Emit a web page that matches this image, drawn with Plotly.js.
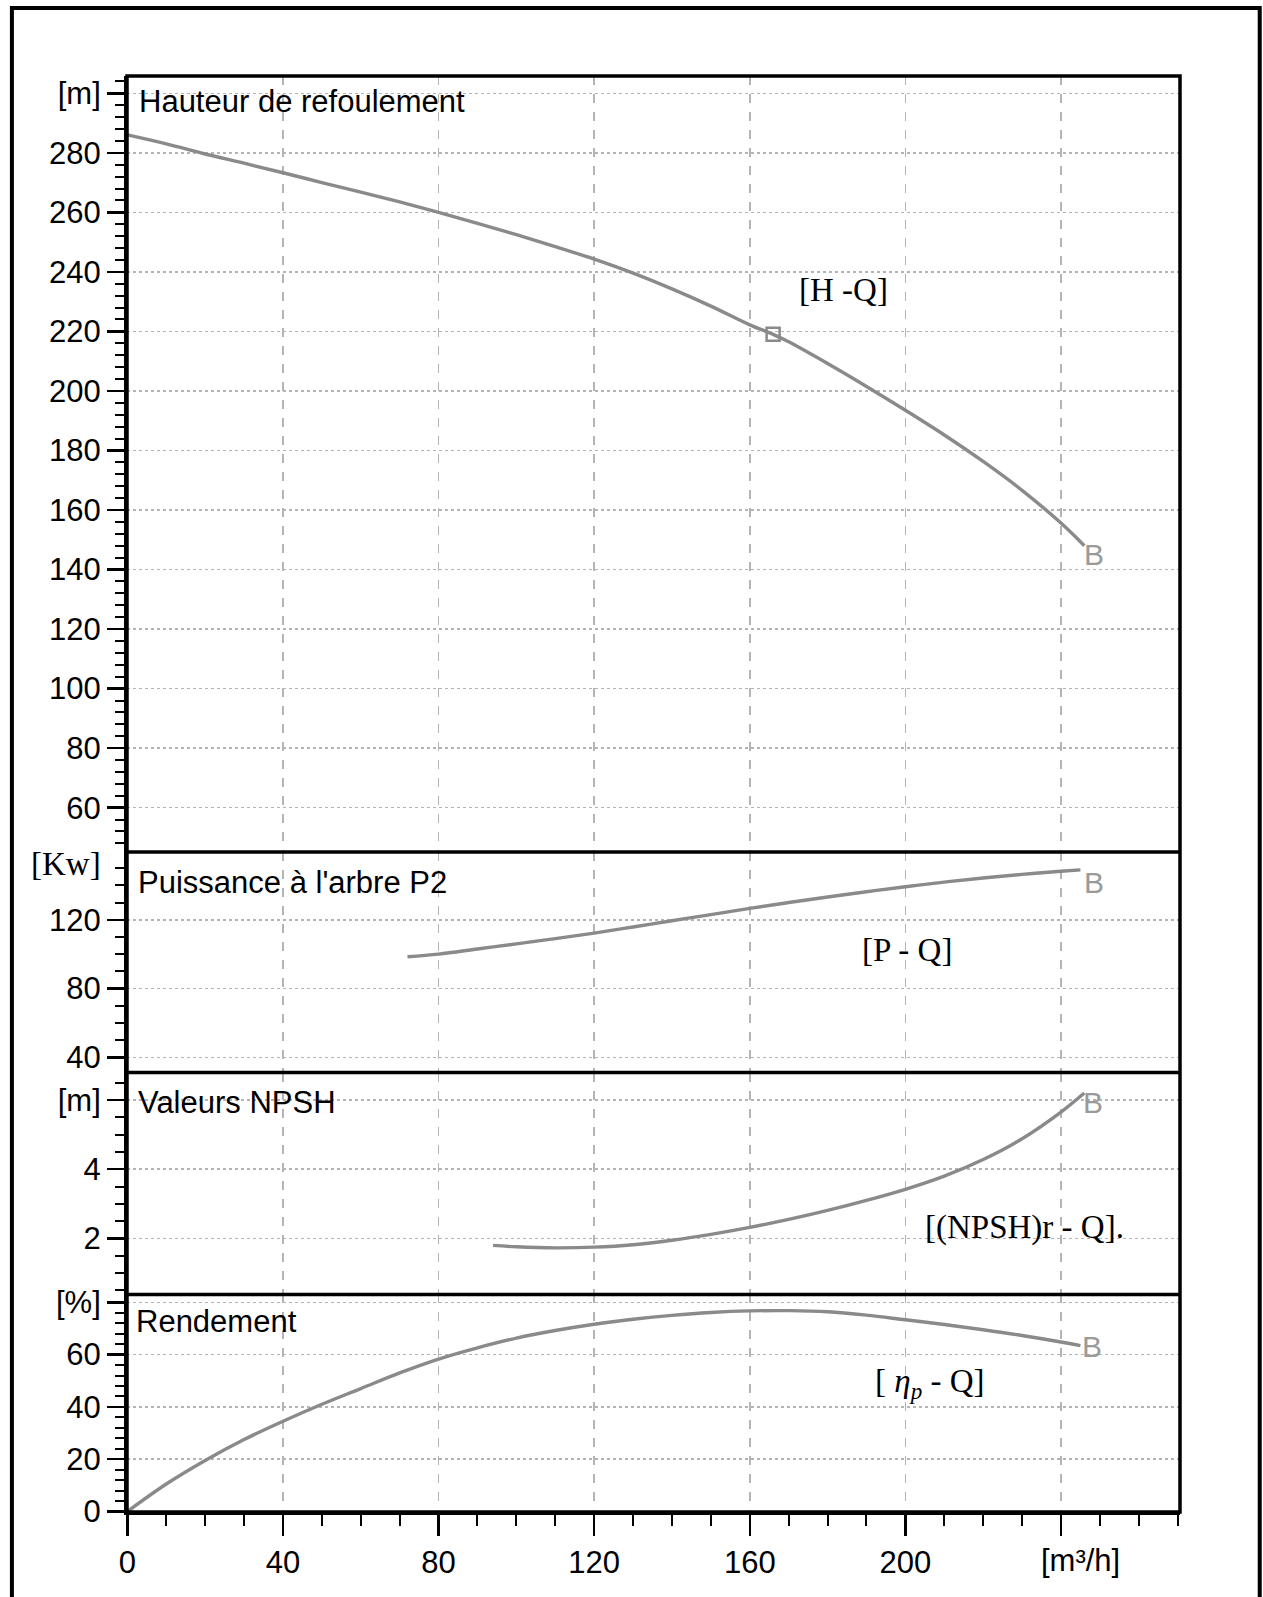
<!DOCTYPE html>
<html>
<head>
<meta charset="utf-8">
<script src="https://cdn.plot.ly/plotly-3.0.1.min.js"></script>
<style>
  html, body { margin: 0; padding: 0; background: #fff; }
  #chart { width: 1263px; height: 1597px; }
</style>
</head>
<body>
<div id="chart"></div>
<script>
// ---- Data ----
const qH = [0, 10, 20, 30, 40, 50, 60, 70, 80, 90, 100, 110, 120, 130, 140, 150, 160, 166, 170, 180, 190, 200, 210, 220, 230, 240, 246];
const headH = [286, 283, 279.6, 276.5, 273.3, 270, 266.8, 263.5, 260, 256.3, 252.5, 248.5, 244.3, 239.6, 234.3, 228.5, 222.2, 219, 216.5, 209.2, 201.5, 193.5, 185.2, 176.3, 166.6, 155.6, 148];

const opQ = [166];
const opH = [219];

const qP = [72, 80, 90, 100, 110, 120, 130, 140, 150, 160, 170, 180, 190, 200, 210, 220, 230, 240, 245];
const powerP = [98.5, 100, 103, 106, 109, 112.2, 115.8, 119.4, 123, 126.6, 130, 133.2, 136.3, 139.2, 141.9, 144.3, 146.4, 148.2, 149];

const qN = [94, 100, 110, 120, 130, 140, 150, 160, 170, 180, 190, 200, 210, 220, 230, 240, 246];
const npshR = [1.8, 1.76, 1.73, 1.75, 1.82, 1.95, 2.12, 2.32, 2.55, 2.81, 3.1, 3.42, 3.8, 4.28, 4.88, 5.65, 6.2];

const qE = [0, 10, 20, 30, 40, 50, 60, 70, 80, 90, 100, 110, 120, 130, 140, 150, 160, 170, 180, 190, 200, 210, 220, 230, 240, 245];
const effE = [0, 10.5, 19.5, 27.5, 34.5, 41, 47, 53, 58.3, 62.6, 66.3, 69.2, 71.6, 73.5, 75, 76.1, 76.7, 76.8, 76.4, 75.1, 73.3, 71.5, 69.5, 67.3, 64.8, 63.4];

// tick labels
const xTickVals = [0, 40, 80, 120, 160, 200, 240];
const xTickText = ['0', '40', '80', '120', '160', '200', ' '];
const hTickVals = [60, 80, 100, 120, 140, 160, 180, 200, 220, 240, 260, 280, 300];
const hTickText = ['60', '80', '100', '120', '140', '160', '180', '200', '220', '240', '260', '280', '[m]'];
const pTickVals = [40, 80, 120];
const pTickText = ['40', '80', '120'];
const nTickVals = [2, 4, 6];
const nTickText = ['2', '4', '[m]'];
const eTickVals = [0, 20, 40, 60, 80];
const eTickText = ['0', '20', '40', '60', '[%]'];

// ---- Styles ----
const SANS = 'Liberation Sans, Arial, Helvetica, sans-serif';
const SERIF = 'Liberation Serif, Times New Roman, serif';
const curveColor = '#8a8a8a';
const gridColor = '#b4b4b4';

function yax(domain, range, vals, text, minorD) {
  return {
    domain: domain, range: range,
    tickmode: 'array', tickvals: vals, ticktext: text,
    ticks: 'outside', ticklen: 17, tickwidth: 2.5, tickcolor: '#000',
    tickfont: { family: SANS, size: 31, color: '#000' },
    showline: true, linecolor: '#000', linewidth: 3,
    showgrid: true, gridcolor: gridColor, gridwidth: 1.5, griddash: 'dot',
    zeroline: false, anchor: 'x', fixedrange: true,
    minor: { tickmode: 'linear', tick0: 0, dtick: minorD, ticks: 'outside', ticklen: 9, tickwidth: 2, tickcolor: '#000', showgrid: false }
  };
}

const line = { color: curveColor, width: 3.4, shape: 'spline', smoothing: 1 };

const traces = [
  { x: qH, y: headH, xaxis: 'x', yaxis: 'y', mode: 'lines', line: line, hoverinfo: 'skip' },
  { x: opQ, y: opH, xaxis: 'x', yaxis: 'y', mode: 'markers',
    marker: { symbol: 'square-open', size: 13, color: curveColor, line: { width: 2.5, color: curveColor } }, hoverinfo: 'skip' },
  { x: qP, y: powerP, xaxis: 'x', yaxis: 'y2', mode: 'lines', line: line, hoverinfo: 'skip' },
  { x: qN, y: npshR, xaxis: 'x', yaxis: 'y3', mode: 'lines', line: line, hoverinfo: 'skip' },
  { x: qE, y: effE, xaxis: 'x', yaxis: 'y4', mode: 'lines', line: line, hoverinfo: 'skip' }
];

const bH = 0.4596, bP = 0.3060, bN = 0.1515;

function ann(text, x, y, yref, opts) {
  return Object.assign({ text: text, x: x, y: y, xref: 'x', yref: yref, showarrow: false,
    xanchor: 'center', yanchor: 'middle' }, opts || {});
}
const titleFont = { family: SANS, size: 31, color: '#000' };
const labelFont = { family: SERIF, size: 33, color: '#000' };
const bFont = { family: SANS, size: 30, color: '#9a9a9a' };

const layout = {
  width: 1263, height: 1597,
  margin: { l: 127, r: 83, t: 76, b: 85, pad: 0 },
  paper_bgcolor: '#fff', plot_bgcolor: '#fff',
  showlegend: false,
  xaxis: {
    range: [-0.1, 270.6], anchor: 'y4',
    tickmode: 'array', tickvals: xTickVals, ticktext: xTickText,
    ticks: 'outside', ticklen: 21, tickwidth: 2.5, tickcolor: '#000',
    tickfont: { family: SANS, size: 31, color: '#000' },
    showline: true, linecolor: '#000', linewidth: 3,
    showgrid: true, gridcolor: gridColor, gridwidth: 1.5, griddash: 'dash',
    zeroline: false, fixedrange: true,
    minor: { tickmode: 'linear', tick0: 0, dtick: 10, ticks: 'outside', ticklen: 11, tickwidth: 2, tickcolor: '#000', showgrid: false }
  },
  yaxis: yax([bH, 1], [45.1, 305.8], hTickVals, hTickText, 4),
  yaxis2: yax([bP, bH], [31.1, 159.4], pTickVals, pTickText, 10),
  yaxis3: yax([bN, bP], [0.384, 6.79], nTickVals, nTickText, 0.5),
  yaxis4: yax([0, bN], [-0.2, 83], eTickVals, eTickText, 4),
  annotations: [
    ann('Hauteur de refoulement', 2.4, 297.1, 'y', { xanchor: 'left', font: titleFont }),
    ann("Puissance à l'arbre P2", 2.1, 141.9, 'y2', { xanchor: 'left', font: titleFont }),
    ann('Valeurs NPSH', 2.1, 5.94, 'y3', { xanchor: 'left', font: titleFont }),
    ann('Rendement', 1.6, 72.5, 'y4', { xanchor: 'left', font: titleFont }),
    ann('[H -Q]', 184.2, 233.9, 'y', { font: labelFont }),
    ann('[P - Q]', 200.5, 102.2, 'y2', { font: labelFont }),
    ann('[(NPSH)r - Q].', 230.6, 2.32, 'y3', { font: labelFont }),
    ann('[ <i>η</i><sub><i>p</i></sub> - Q]', 206.3, 49.1, 'y4', { font: labelFont }),
    ann('B', 248.5, 144.9, 'y', { font: bFont }),
    ann('B', 248.5, 141.9, 'y2', { font: bFont }),
    ann('B', 248.2, 5.94, 'y3', { font: bFont }),
    ann('B', 247.9, 63.1, 'y4', { font: bFont }),
    { text: '[Kw]', xref: 'paper', yref: 'y2', x: -0.058, y: 152.6, showarrow: false,
      xanchor: 'center', yanchor: 'middle', font: { family: SERIF, size: 33, color: '#000' } },
    { text: '[m³/h]', xref: 'x', yref: 'paper', x: 245, y: -0.0337, showarrow: false,
      xanchor: 'center', yanchor: 'middle', font: { family: SANS, size: 31, color: '#000' } }
  ],
  shapes: [
    { type: 'rect', xref: 'paper', yref: 'paper', x0: 0, x1: 1, y0: 0, y1: 1, line: { color: '#000', width: 3.5 } },
    { type: 'line', xref: 'paper', yref: 'paper', x0: 0, x1: 1, y0: bH, y1: bH, line: { color: '#000', width: 3.5 } },
    { type: 'line', xref: 'paper', yref: 'paper', x0: 0, x1: 1, y0: bP, y1: bP, line: { color: '#000', width: 3.5 } },
    { type: 'line', xref: 'paper', yref: 'paper', x0: 0, x1: 1, y0: bN, y1: bN, line: { color: '#000', width: 3.5 } },
    { type: 'rect', xref: 'paper', yref: 'paper', x0: -0.1093, x1: 1.0757, y0: -0.09, y1: 1.0473, line: { color: '#000', width: 4 } }
  ]
};

Plotly.newPlot('chart', traces, layout, { staticPlot: true, displayModeBar: false });
</script>
</body>
</html>
